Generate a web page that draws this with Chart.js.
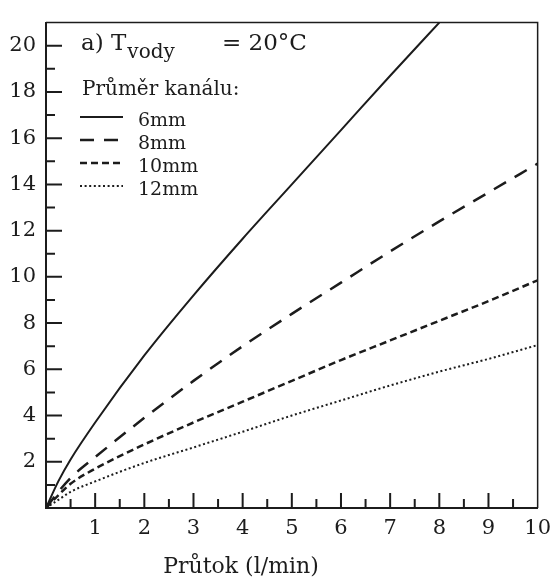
<!DOCTYPE html>
<html>
<head>
<meta charset="utf-8">
<script src="https://cdn.jsdelivr.net/npm/chart.js@4/dist/chart.umd.min.js"></script>
<style>
  html, body { margin: 0; padding: 0; background: #fff; }
  #wrap { width: 559px; height: 580px; }
</style>
</head>
<body>
<div id="wrap"><canvas id="graf" width="559" height="580"></canvas></div>
<script>
// průtok (l/min) a tlakové ztráty pro jednotlivé průměry kanálu
const prutok = [0, 0.25, 0.5, 1, 2, 3, 4, 5, 6, 7, 8, 9, 10];
const kanal6mm  = [0, 1.15, 2.1, 3.7, 6.6, 9.2, 11.65, 14.0, 16.35, 18.7, 21.0, null, null];
const kanal8mm  = [0, 0.7, 1.3, 2.2, 3.9, 5.5, 7.0, 8.4, 9.75, 11.1, 12.4, 13.65, 14.9];
const kanal10mm = [0, 0.55, 1.05, 1.7, 2.75, 3.7, 4.6, 5.5, 6.4, 7.25, 8.1, 8.95, 9.85];
const kanal12mm = [0, 0.35, 0.7, 1.15, 1.95, 2.62, 3.3, 4.0, 4.65, 5.3, 5.9, 6.45, 7.05];

const popisky = ["6mm", "8mm", "10mm", "12mm"];
const xTicks = [1, 2, 3, 4, 5, 6, 7, 8, 9, 10];
const yTicks = [2, 4, 6, 8, 10, 12, 14, 16, 18, 20];
const xMinor = [0.5, 1.5, 2.5, 3.5, 4.5, 5.5, 6.5, 7.5, 8.5, 9.5];
const yMinor = [1, 3, 5, 7, 9, 11, 13, 15, 17, 19];

const INK = "#1c1c1c";
const FONT = "'DejaVu Serif', 'Liberation Serif', serif";

function body(ys) {
    return prutok.map((x, i) => ({ x: x, y: ys[i] }));
}

// vnitřní značky os + horní a pravý okraj rámečku
const znackyOs = {
    id: "znackyOs",
    afterDraw(chart) {
        const { ctx, chartArea: a, scales: { x, y } } = chart;
        ctx.save();
        ctx.strokeStyle = INK;
        ctx.lineWidth = 1.5;
        ctx.beginPath();
        ctx.moveTo(a.left, a.top);
        ctx.lineTo(a.right, a.top);
        ctx.lineTo(a.right, a.bottom);
        ctx.stroke();

        ctx.lineWidth = 2;
        ctx.beginPath();
        xTicks.slice(0, -1).forEach(v => {
            const px = x.getPixelForValue(v);
            ctx.moveTo(px, a.bottom); ctx.lineTo(px, a.bottom - 15);
        });
        xMinor.forEach(v => {
            const px = x.getPixelForValue(v);
            ctx.moveTo(px, a.bottom); ctx.lineTo(px, a.bottom - 9);
        });
        yTicks.forEach(v => {
            const py = y.getPixelForValue(v);
            ctx.moveTo(a.left, py); ctx.lineTo(a.left + 16, py);
        });
        yMinor.forEach(v => {
            const py = y.getPixelForValue(v);
            ctx.moveTo(a.left, py); ctx.lineTo(a.left + 9, py);
        });
        ctx.stroke();

        // popisek osy x
        ctx.fillStyle = INK;
        ctx.font = "22px " + FONT;
        ctx.textAlign = "center";
        ctx.textBaseline = "alphabetic";
        ctx.fillText("Průtok (l/min)", 241, 573);
        ctx.restore();
    }
};

// legenda s nadpisem uvnitř grafu
const legendaKanalu = {
    id: "legendaKanalu",
    afterDraw(chart) {
        const { ctx } = chart;
        ctx.save();
        ctx.fillStyle = INK;
        ctx.textAlign = "left";
        ctx.textBaseline = "alphabetic";

        ctx.font = "23px " + FONT;
        ctx.fillText("a) T", 81, 50);
        const w = ctx.measureText("a) T").width;
        ctx.font = "20px " + FONT;
        ctx.fillText("vody", 81 + w + 1, 58);
        ctx.font = "23px " + FONT;
        ctx.fillText("= 20°C", 222, 50);

        ctx.font = "20px " + FONT;
        ctx.fillText("Průměr kanálu:", 82, 95);

        const radky = [126, 149, 172, 195];
        ctx.font = "19px " + FONT;
        chart.data.datasets.forEach((ds, i) => {
            const yb = radky[i];
            ctx.fillText(popisky[i], 138, yb);
            ctx.save();
            ctx.strokeStyle = ds.borderColor;
            ctx.lineWidth = ds.borderWidth;
            ctx.setLineDash(ds.borderDash || []);
            ctx.beginPath();
            ctx.moveTo(80, yb - 9);
            ctx.lineTo(123, yb - 9);
            ctx.stroke();
            ctx.restore();
        });
        ctx.restore();
    }
};

new Chart(document.getElementById("graf"), {
    type: "line",
    data: {
        datasets: [
            { label: popisky[0], data: body(kanal6mm), borderColor: INK, borderWidth: 2, borderDash: [] },
            { label: popisky[1], data: body(kanal8mm), borderColor: INK, borderWidth: 2.5, borderDash: [14, 10] },
            { label: popisky[2], data: body(kanal10mm), borderColor: INK, borderWidth: 2.5, borderDash: [7, 4] },
            { label: popisky[3], data: body(kanal12mm), borderColor: INK, borderWidth: 2, borderDash: [2, 2.6] }
        ]
    },
    options: {
        responsive: false,
        animation: false,
        devicePixelRatio: 1,
        layout: { padding: { top: 10, right: 17, bottom: 0, left: 0 } },
        elements: {
            point: { radius: 0 },
            line: { tension: 0.4, cubicInterpolationMode: "monotone" }
        },
        plugins: { legend: { display: false }, tooltip: { enabled: false } },
        scales: {
            x: {
                type: "linear", min: 0, max: 10,
                afterFit: s => { s.height = 72; },
                afterBuildTicks: s => { s.ticks = xTicks.map(v => ({ value: v })); },
                grid: { display: false, drawTicks: false },
                border: { display: true, color: INK, width: 2 },
                ticks: { color: INK, padding: 8, font: { family: FONT, size: 21 } }
            },
            y: {
                type: "linear", min: 0, max: 21,
                afterFit: s => { s.width = 46; },
                afterBuildTicks: s => { s.ticks = yTicks.map(v => ({ value: v })); },
                grid: { display: false, drawTicks: false },
                border: { display: true, color: INK, width: 2 },
                ticks: { color: INK, padding: 10, font: { family: FONT, size: 21 } }
            }
        }
    },
    plugins: [znackyOs, legendaKanalu]
});
</script>
</body>
</html>
